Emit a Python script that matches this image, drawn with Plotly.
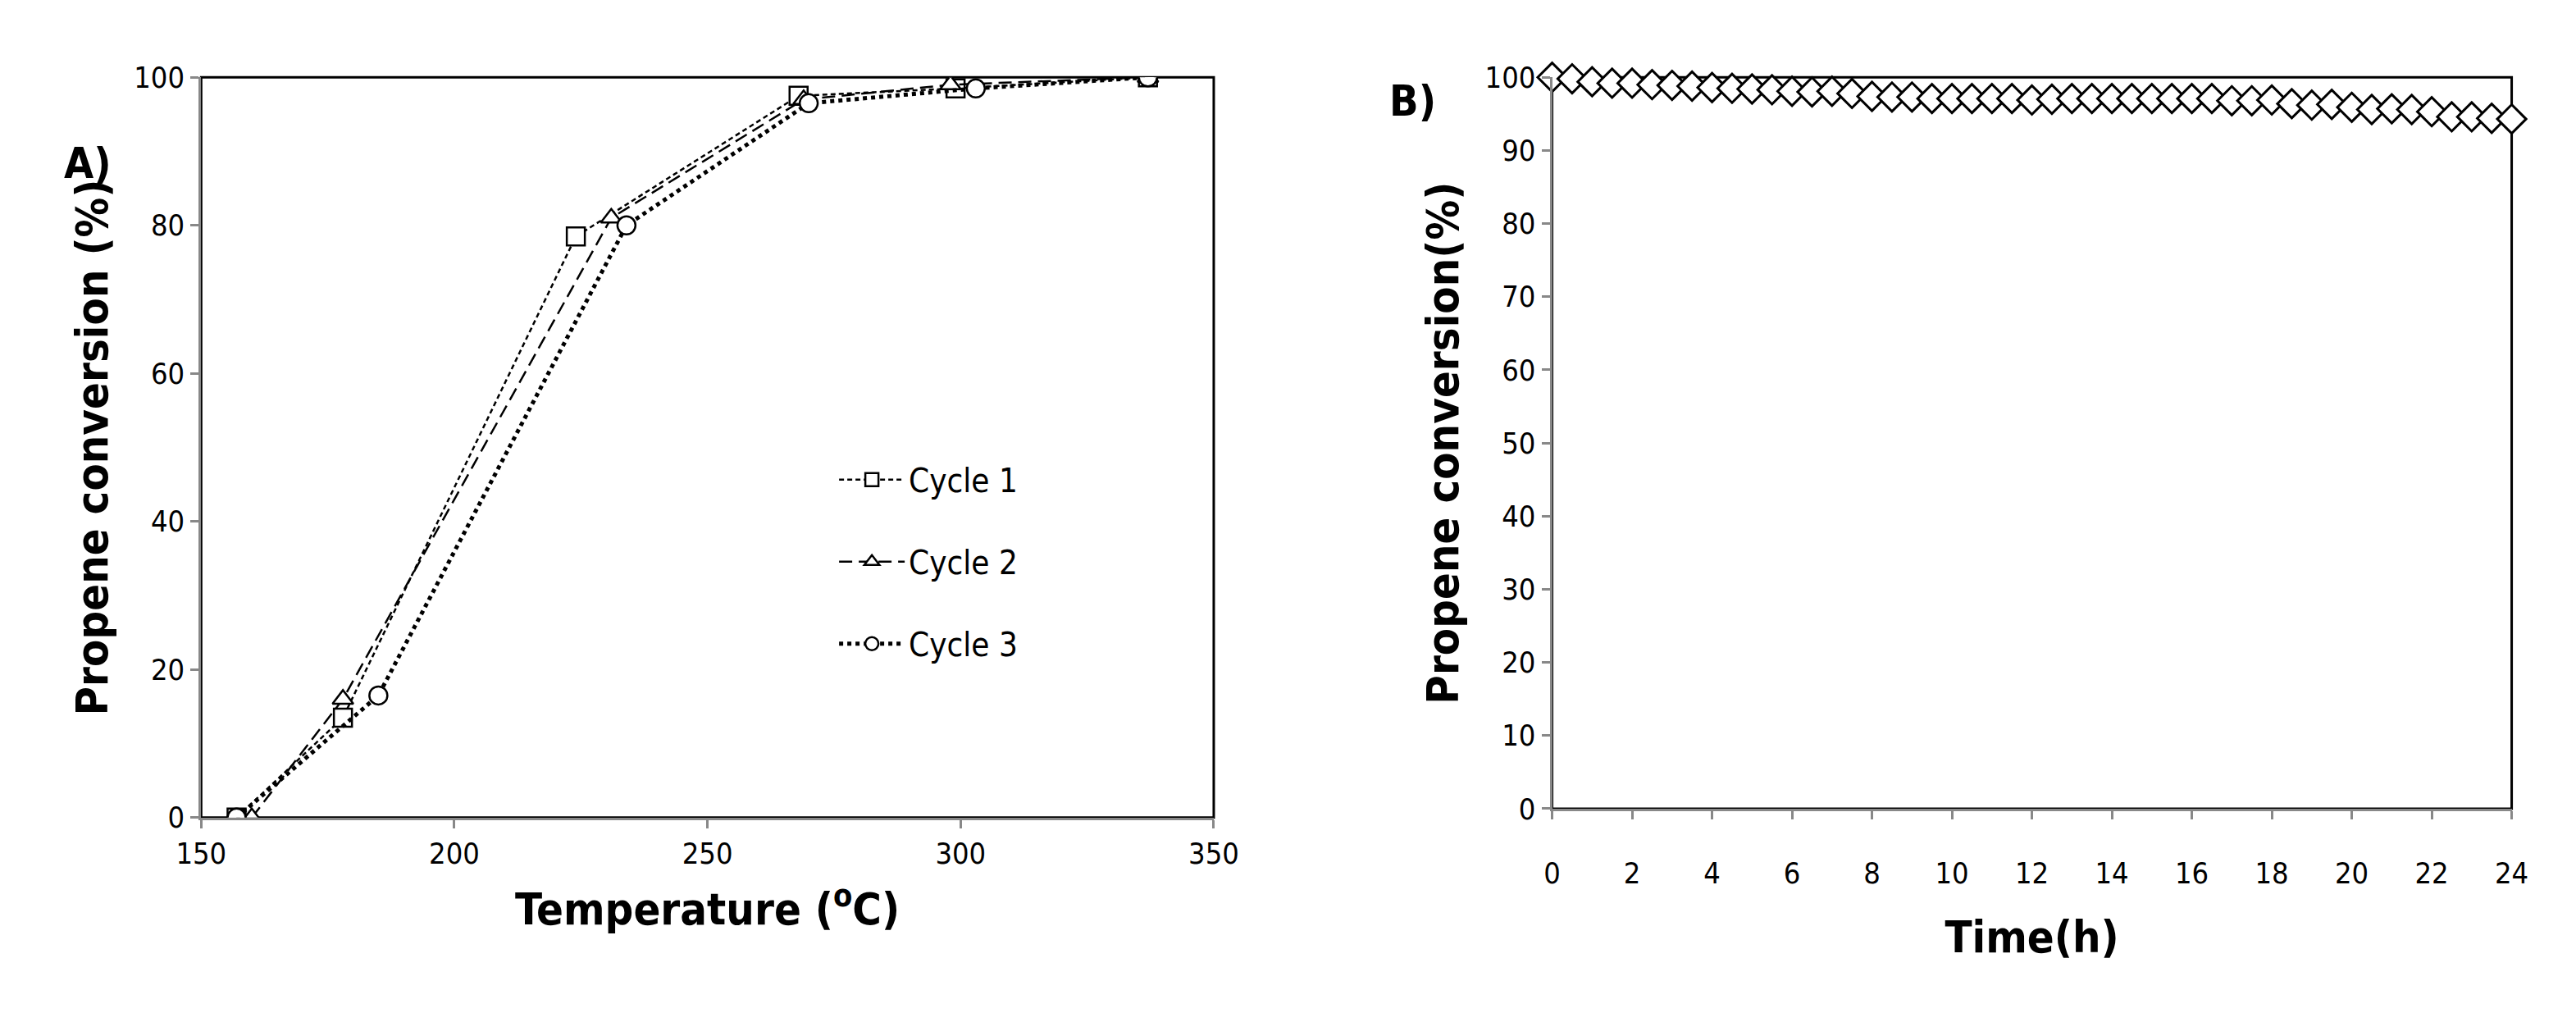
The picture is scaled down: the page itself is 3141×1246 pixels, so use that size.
import plotly.graph_objects as go

c1_x = [157, 178, 224, 268, 299, 337]
c1_y = [0, 13.5, 78.5, 97.5, 98.5, 100]
c2_x = [160, 178, 231, 269, 298, 337]
c2_y = [0, 16, 81, 97, 99, 100]
c3_x = [157, 185, 234, 270, 303, 337]
c3_y = [0, 16.5, 80, 96.5, 98.5, 100]

time_h = [i * 0.5 for i in range(49)]
conv_b = [100, 99.8, 99.4, 99.2, 99.2, 99.0, 98.9, 98.8, 98.6, 98.5, 98.4, 98.3, 98.1, 98.0, 98.1, 97.8,
          97.4, 97.3, 97.3, 97.1, 97.1, 97.1, 97.1, 97.1, 96.9, 97.0, 97.1, 97.1, 97.1, 97.1, 97.1, 97.1,
          97.1, 97.1, 96.8, 96.8, 96.9, 96.4, 96.2, 96.3, 95.9, 95.6, 95.7, 95.6, 95.3, 94.6, 94.6, 94.4, 94.3]

FONT = "Liberation Sans Narrow, DejaVu Sans Condensed, Open Sans, sans-serif"
fig = go.Figure()
mk = dict(color="white", size=22, line=dict(color="black", width=2.5))
fig.add_trace(go.Scatter(x=c1_x, y=c1_y, name="Cycle 1", mode="lines+markers", legendgroup="a",
                         line=dict(color="black", width=2.5, dash="6px,4px"), marker=dict(symbol="square", **mk)))
fig.add_trace(go.Scatter(x=c2_x, y=c2_y, name="Cycle 2", mode="lines+markers", legendgroup="b",
                         line=dict(color="black", width=2.5, dash="16px,8px"), marker=dict(symbol="triangle-up", **mk)))
fig.add_trace(go.Scatter(x=c3_x, y=c3_y, name="Cycle 3", mode="lines+markers", legendgroup="c",
                         line=dict(color="black", width=5, dash="dot"), marker=dict(symbol="circle", **mk)))
fig.add_trace(go.Scatter(x=time_h, y=conv_b, mode="markers", showlegend=False, xaxis="x2", yaxis="y2",
                         cliponaxis=False,
                         marker=dict(symbol="diamond", color="white", size=27, line=dict(color="black", width=3))))

ax = dict(showgrid=False, zeroline=False, ticks="outside", ticklen=10, tickcolor="#888", tickwidth=3,
          showline=True, linecolor="#888", linewidth=3, tickfont=dict(family=FONT, size=36, color="black"))
tf = dict(family=FONT, size=54, color="black", weight="bold")
fig.update_layout(
    width=3141, height=1246, margin=dict(l=0, r=0, t=0, b=0),
    paper_bgcolor="white", plot_bgcolor="white",
    xaxis=dict(ax, domain=[0.067, 0.468], range=[150, 350], dtick=50, anchor="y",
               title=dict(text="Temperature (<sup>o</sup>C)", font=tf, standoff=30)),
    yaxis=dict(ax, domain=[0.196, 0.945], range=[0, 100], dtick=20, anchor="x",
               title=dict(text="Propene conversion (%)", font=tf, standoff=15)),
    xaxis2=dict(ax, domain=[0.602, 0.982], range=[0, 24], dtick=2, anchor="y2", ticklabelstandoff=35,
                title=dict(text="Time(h)", font=tf, standoff=40)),
    yaxis2=dict(ax, domain=[0.205, 0.945], range=[0, 100], dtick=10, anchor="x2",
                title=dict(text="Propene conversion(%)", font=tf, standoff=15)),
    legend=dict(x=0.318, y=0.565, xanchor="left", yanchor="top", bgcolor="rgba(0,0,0,0)",
                font=dict(family=FONT, size=40, color="black"), tracegroupgap=45, itemwidth=80),
    shapes=[
        dict(type="rect", xref="x domain", yref="y domain", x0=0, x1=1, y0=0, y1=1, line=dict(color="black", width=3), layer="below"),
        dict(type="rect", xref="x2 domain", yref="y2 domain", x0=0, x1=1, y0=0, y1=1, line=dict(color="black", width=3), layer="below"),
    ],
    annotations=[
        dict(text="A)", x=0.012, y=0.885, xref="paper", yref="paper", showarrow=False, xanchor="left",
             font=dict(family=FONT, size=52, color="black", weight="bold")),
        dict(text="B)", x=0.537, y=0.948, xref="paper", yref="paper", showarrow=False, xanchor="left",
             font=dict(family=FONT, size=52, color="black", weight="bold")),
    ],
)
fig.write_html("out.html")
